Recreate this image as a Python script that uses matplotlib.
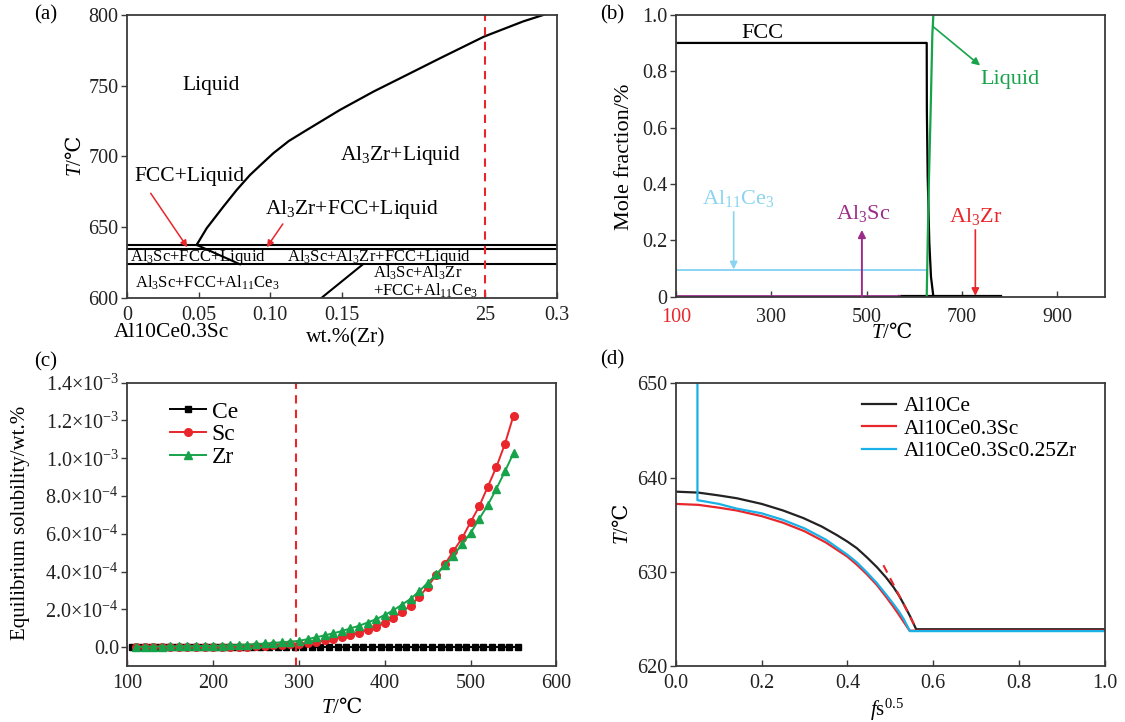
import numpy as np
import matplotlib.pyplot as plt

plt.rcParams['font.family'] = ['Liberation Serif', 'DejaVu Serif']
plt.rcParams['mathtext.fontset'] = 'custom'
plt.rcParams['mathtext.rm'] = 'Liberation Serif'
plt.rcParams['mathtext.it'] = 'Liberation Serif:italic'
plt.rcParams['mathtext.bf'] = 'Liberation Serif:bold'
plt.rcParams['mathtext.sf'] = 'DejaVu Serif'
plt.rcParams['mathtext.default'] = 'rm'

DEG = r'$\mathsf{℃}$'
TLAB = r'$\mathit{T}$/' + DEG

# ---- (a) phase diagram, wt.%(Zr) vs T
liq_x = [0.0486, 0.0556, 0.0672, 0.0765, 0.0858, 0.094, 0.1021, 0.113, 0.1254, 0.1486,
         0.1719, 0.1952, 0.2184, 0.2491, 0.2766, 0.2905]
liq_T = [637.5, 649.3, 664.5, 676.3, 686.9, 694.7, 702.3, 711.0, 718.7, 732.9,
         745.8, 757.6, 769.4, 784.7, 795.5, 800]
iso_T = [637.5, 634.5, 623.8]
slope1_x = [0.0486, 0.0788]
slope1_T = [637.5, 623.8]
slope2_x = [0.1356, 0.1646]
slope2_T = [600, 623.8]
a_xticks = [0, 0.05, 0.10, 0.15, 0.25, 0.3]
a_xticklabels = ['0', '0.05', '0.10', '0.15', '25', '0.3']

# ---- (b) mole fraction vs T
fcc_T = [100, 626, 626.3, 628, 631.5, 635, 640]
fcc_f = [0.9, 0.9, 0.662, 0.426, 0.19, 0.07, 0.0]
liquid_T = [626, 628, 630.8, 634.3, 637.8, 640]
liquid_f = [0.0, 0.19, 0.426, 0.662, 0.93, 1.0]
ce_T = [100, 626]
ce_f = [0.095, 0.095]
sc_T = [100, 568]
sc_f = [0.004, 0.004]
tail_T = [568, 781]
tail_f = [0.002, 0.002]

# ---- (c) equilibrium solubility (wt.%)
T_ce = np.arange(105, 556, 10)
sol_ce = np.zeros(len(T_ce))
T_sz = np.arange(110, 551, 10)
sol_sc = np.array([0.00, 0.00, 0.00, 0.00, 0.00, 0.00, 0.00, 0.00, 0.00, 0.01,
                   0.01, 0.01, 0.02, 0.03, 0.04, 0.06, 0.09, 0.13, 0.15,
                   0.18, 0.22, 0.28, 0.36, 0.44, 0.53, 0.64, 0.76, 0.90, 1.07,
                   1.28, 1.54, 1.85, 2.20, 2.65, 3.20, 3.82, 4.38, 5.09, 5.76,
                   6.62, 7.45, 8.49, 9.53, 10.76, 12.26]) * 1e-4
sol_zr = np.array([0.02, 0.02, 0.03, 0.03, 0.04, 0.04, 0.05, 0.05, 0.06, 0.07,
                   0.08, 0.09, 0.11, 0.13, 0.16, 0.19, 0.22, 0.26, 0.29, 0.33,
                   0.42, 0.52, 0.62, 0.73, 0.85, 0.99, 1.13, 1.30, 1.48, 1.70,
                   1.95, 2.25, 2.55, 2.95, 3.40, 3.85, 4.32, 4.84, 5.46, 6.04,
                   6.78, 7.52, 8.38, 9.30, 10.27]) * 1e-4
c_yticks = [0, 2e-4, 4e-4, 6e-4, 8e-4, 1.0e-3, 1.2e-3, 1.4e-3]
c_yticklabels = ['0.0', r'2.0$\times$10$^{-4}$', r'4.0$\times$10$^{-4}$', r'6.0$\times$10$^{-4}$',
                 r'8.0$\times$10$^{-4}$', r'1.0$\times$10$^{-3}$', r'1.2$\times$10$^{-3}$',
                 r'1.4$\times$10$^{-3}$']

# ---- (d) Scheil curves
al10ce_fs = [0, 0.052, 0.1, 0.142, 0.2, 0.25, 0.297, 0.34, 0.375, 0.4, 0.422, 0.445,
             0.4686, 0.49, 0.507, 0.52, 0.531, 0.546, 0.5604, 1.0]
al10ce_T = [638.5, 638.4, 638.1, 637.8, 637.2, 636.5, 635.7, 634.8, 633.9, 633.2, 632.5, 631.55,
            630.5, 629.4, 628.4, 627.5, 626.6, 625.3, 623.9, 623.9]
sc03_fs = [0, 0.052, 0.1, 0.142, 0.2, 0.25, 0.3, 0.35, 0.375, 0.4, 0.422, 0.445,
           0.4686, 0.49, 0.507, 0.52, 0.531, 0.545, 1.0]
sc03_T = [637.2, 637.1, 636.8, 636.5, 635.9, 635.2, 634.3, 633.1, 632.35, 631.6, 630.75, 629.75,
          628.6, 627.35, 626.3, 625.45, 624.7, 623.75, 623.75]
zr025_fs = [0.05, 0.05, 0.1, 0.142, 0.2, 0.25, 0.3, 0.35, 0.375, 0.4, 0.422, 0.445,
            0.4686, 0.49, 0.507, 0.52, 0.531, 0.546, 1.0]
zr025_T = [650, 637.6, 637.2, 636.7, 636.2, 635.5, 634.6, 633.4, 632.6, 631.8, 631.0, 629.95,
           628.8, 627.6, 626.6, 625.8, 625.0, 623.7, 623.7]
tangent_fs = [0.484, 0.558]
tangent_T = [630.7, 624.2]

RED = '#e8262b'
GREEN = '#16a34a'
EDGE = '#3a3a3a'
TS = 14.5


def style(ax, xpad=6):
    for s in ax.spines.values():
        s.set_color(EDGE)
        s.set_linewidth(1.3)
    ax.tick_params(axis='x', direction='in', length=4, width=1, color=EDGE,
                   labelsize=TS, pad=xpad, labelcolor='#222222')
    ax.tick_params(axis='y', direction='out', length=4, width=1, color=EDGE,
                   labelsize=TS, pad=2, labelcolor='#222222')


fig = plt.figure(figsize=(11.25, 7.22), dpi=100)
ax_a = fig.add_axes([0.1129, 0.5873, 0.3822, 0.392])
ax_b = fig.add_axes([0.6009, 0.589, 0.3813, 0.3906])
ax_c = fig.add_axes([0.1132, 0.0776, 0.3814, 0.3924])
ax_d = fig.add_axes([0.6009, 0.0776, 0.3809, 0.3915])
style(ax_a)
style(ax_b, xpad=8)
style(ax_c)
style(ax_d)

# ---------------- (a)
ax = ax_a
ax.plot(liq_x, liq_T, color='k', lw=1.6)
for t in iso_T:
    ax.axhline(t, color='k', lw=1.5)
ax.plot(slope1_x, slope1_T, color='k', lw=1.5)
ax.plot(slope2_x, slope2_T, color='k', lw=1.5)
ax.axvline(0.25, color=RED, lw=1.5, dashes=(4, 3))
ax.set_xlim(0, 0.3)
ax.set_ylim(600, 800)
ax.set_xticks(a_xticks)
ax.set_xticklabels(a_xticklabels)
ax.set_yticks([600, 650, 700, 750, 800])
big = 15.5
ax.text(0.0588, 749.8, 'Liquid', fontsize=big, ha='center', va='center')
ax.text(0.191, 701, r'Al$_3$Zr+Liquid', fontsize=big, ha='center', va='center')
ax.text(0.0435, 685.7, 'FCC+Liquid', fontsize=big, ha='center', va='center')
ax.text(0.1573, 662.2, r'Al$_3$Zr+FCC+Liquid', fontsize=big, ha='center', va='center')
small = 12
ax.text(0.0498, 629.0, r'Al$_3$Sc+FCC+Liquid', fontsize=small, ha='center', va='center')
ax.text(0.1756, 629.0, r'Al$_3$Sc+Al$_3$Zr+FCC+Liquid', fontsize=small, ha='center', va='center')
ax.text(0.0562, 610.4, r'Al$_3$Sc+FCC+Al$_{11}$Ce$_3$', fontsize=small, ha='center', va='center')
ax.text(0.1716, 611.5, 'Al$_3$Sc+Al$_3$Zr\n+FCC+Al$_{11}$Ce$_3$', fontsize=small,
        ha='left', va='center', linespacing=0.95)
arrow_red = dict(arrowstyle='-|>', color=RED, lw=1.1, mutation_scale=10, shrinkA=0, shrinkB=0)
ax.annotate('', xy=(0.0421, 635.8), xytext=(0.0165, 674), arrowprops=arrow_red)
ax.annotate('', xy=(0.0975, 635.8), xytext=(0.1087, 652.3), arrowprops=arrow_red)
ax.set_ylabel(TLAB, fontsize=15, va='center')
ax.yaxis.set_label_coords(-0.119, 0.5)
fig.text(46 / 1125, 1 - 15 / 722, '(a)', fontsize=15, ha='center', va='center')
fig.text(171 / 1125, 1 - 333 / 722, 'Al10Ce0.3Sc', fontsize=big, ha='center', va='center')
fig.text(346 / 1125, 1 - 338 / 722, 'wt.%(Zr)', fontsize=big, ha='center', va='center')

# ---------------- (b)
ax = ax_b
ax.plot(ce_T, ce_f, color='#8ad4f2', lw=1.4)
ax.plot(tail_T, tail_f, color='k', lw=1.6)
ax.plot(sc_T, sc_f, color='#9b2d8a', lw=2.0)
ax.plot(fcc_T, fcc_f, color='k', lw=1.6)
ax.plot(liquid_T, liquid_f, color=GREEN, lw=1.6)
ax.set_xlim(100, 1000)
ax.set_ylim(0, 1.0)
ax.set_xticks([100, 300, 500, 700, 900])
ax.set_yticks([0, 0.2, 0.4, 0.6, 0.8, 1.0])
ax.set_yticklabels(['0', '0.2', '0.4', '0.6', '0.8', '1.0'])
ax.get_xticklabels()[0].set_color(RED)
lab = 16
ax.text(281, 0.934, 'FCC', fontsize=lab, ha='center', va='center')
ax.text(800, 0.772, 'Liquid', fontsize=lab, color=GREEN, ha='center', va='center')
ax.text(230, 0.349, r'Al$_{11}$Ce$_3$', fontsize=lab, color='#8ad4f2', ha='center', va='center')
ax.text(493, 0.296, r'Al$_3$Sc', fontsize=lab, color='#9b2d8a', ha='center', va='center')
ax.text(729, 0.286, r'Al$_3$Zr', fontsize=lab, color=RED, ha='center', va='center')
ax.annotate('', xy=(738, 0.82), xytext=(640, 0.957),
            arrowprops=dict(arrowstyle='-|>', color=GREEN, lw=1.2, mutation_scale=11, shrinkA=0, shrinkB=0))
ax.annotate('', xy=(221, 0.097), xytext=(221, 0.301),
            arrowprops=dict(arrowstyle='-|>', color='#8ad4f2', lw=1.2, mutation_scale=11, shrinkA=0, shrinkB=0))
ax.annotate('', xy=(490, 0.237), xytext=(490, 0.0),
            arrowprops=dict(arrowstyle='-|>', color='#9b2d8a', lw=1.4, mutation_scale=11, shrinkA=0, shrinkB=0))
ax.annotate('', xy=(728, 0.003), xytext=(728, 0.237),
            arrowprops=dict(arrowstyle='-|>', color=RED, lw=1.2, mutation_scale=11, shrinkA=0, shrinkB=0))
ax.set_ylabel('Mole fraction/%', fontsize=16, va='center')
ax.yaxis.set_label_coords(-0.119, 0.495)
ax.set_xlabel(TLAB, fontsize=15, va='center')
ax.xaxis.set_label_coords(0.503, -0.129)
fig.text(612 / 1125, 1 - 15 / 722, '(b)', fontsize=15, ha='center', va='center')

# ---------------- (c)
ax = ax_c
ax.plot(T_ce, sol_ce, color='k', marker='s', ms=5, lw=1.4, label='Ce')
ax.plot(T_sz, sol_sc, color=RED, marker='o', ms=5.5, lw=1.4, label='Sc')
ax.plot(T_sz, sol_zr, color=GREEN, marker='^', ms=6, lw=1.4, label='Zr')
ax.axvline(297, color=RED, lw=1.5, dashes=(4, 3))
ax.plot([100, 100], [-1e-4, 0], color=RED, lw=1.5)
ax.set_xlim(100, 600)
ax.set_ylim(-1e-4, 1.4e-3)
ax.set_xticks([100, 200, 300, 400, 500, 600])
ax.set_yticks(c_yticks)
ax.set_yticklabels(c_yticklabels)
ax.legend(loc='upper left', bbox_to_anchor=(0.1, 0.935), frameon=False, fontsize=17,
          handlelength=1.5, handletextpad=0.25, labelspacing=0.05, borderpad=0, borderaxespad=0)
ax.set_ylabel('Equilibrium solubility/wt.%', fontsize=15, va='center')
ax.yaxis.set_label_coords(-0.25, 0.505)
ax.set_xlabel(TLAB, fontsize=15, va='center')
ax.xaxis.set_label_coords(0.5, -0.148)
fig.text(46 / 1125, 1 - 362 / 722, '(c)', fontsize=15, ha='center', va='center')

# ---------------- (d)
ax = ax_d
ax.plot(al10ce_fs, al10ce_T, color='#222222', lw=1.6, label='Al10Ce')
ax.plot(sc03_fs, sc03_T, color=RED, lw=1.6, label='Al10Ce0.3Sc')
ax.plot(zr025_fs, zr025_T, color='#1ab0e8', lw=1.6, label='Al10Ce0.3Sc0.25Zr')
ax.plot(tangent_fs, tangent_T, color=RED, lw=1.5, dashes=(4, 3))
ax.set_xlim(0, 1.0)
ax.set_ylim(620, 650)
ax.set_xticks([0.0, 0.2, 0.4, 0.6, 0.8, 1.0])
ax.set_xticklabels(['0.0', '0.2', '0.4', '0.6', '0.8', '1.0'])
ax.set_yticks([620, 630, 640, 650])
ax.legend(loc='upper left', bbox_to_anchor=(0.435, 0.955), frameon=False, fontsize=15.5,
          handlelength=1.55, handletextpad=0.35, labelspacing=0.12, borderpad=0, borderaxespad=0)
ax.set_ylabel(TLAB, fontsize=15, va='center')
ax.yaxis.set_label_coords(-0.124, 0.5)
ax.set_xlabel(r'$\mathit{f}$s$^{0.5}$', fontsize=15, va='center')
ax.xaxis.set_label_coords(0.492, -0.155)
fig.text(612 / 1125, 1 - 360 / 722, '(d)', fontsize=15, ha='center', va='center')

fig.savefig('out.png', dpi=100)
